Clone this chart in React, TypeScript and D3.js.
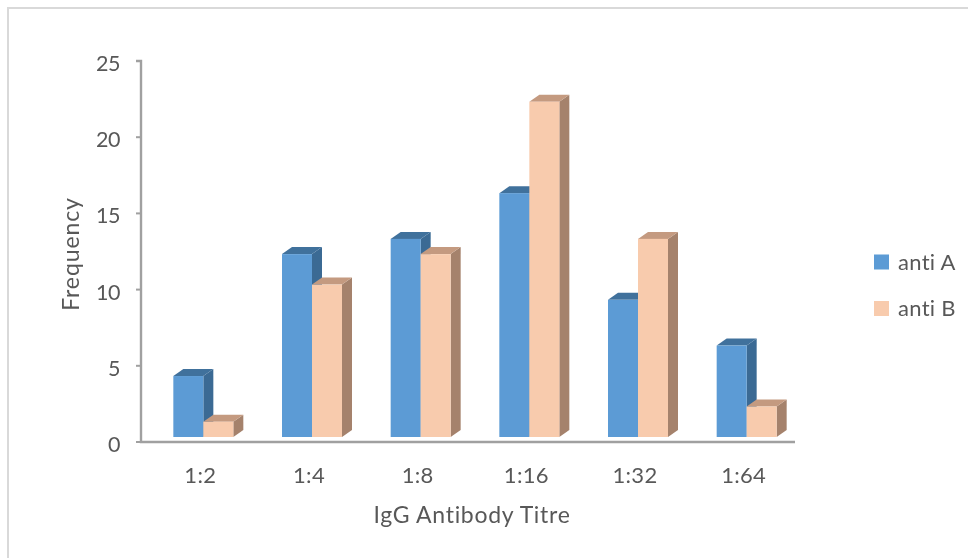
import React from "react";
import * as d3 from "d3";

const categories = ["1:2", "1:4", "1:8", "1:16", "1:32", "1:64"];
const antiA = [4, 12, 13, 16, 9, 6];
const antiB = [1, 10, 12, 22, 13, 2];
const yTicks = [0, 5, 10, 15, 20, 25];
const seriesNames = ["anti A", "anti B"];
const colors = [
  { front: "#5b9bd5", top: "#41719c", side: "#3a6a94" },
  { front: "#f8cbad", top: "#c49a80", side: "#a5826c" },
];

const W = 969;
const H = 558;
const axisX = 141;
const axisY = 442;
const baseY = 437;
const dx = 10;
const dy = 7;
const font = "Lato, Carlito, 'Open Sans', sans-serif";
const textColor = "#595959";

export default function App() {
  const y = d3.scaleLinear().domain([0, 25]).range([axisY, 61]);
  const h = (v: number) => axisY - y(v);
  const band = d3.scaleBand<string>().domain(categories).range([149, 801]);
  const barW = 30;
  const series = [antiA, antiB];

  return (
    <svg
      width={W}
      height={H}
      style={{ position: "absolute", left: 0, top: 0, background: "#fff" }}
      fontFamily={font}
    >
      <defs>
        <filter id="soft" x="-2%" y="-2%" width="104%" height="104%">
          <feGaussianBlur stdDeviation="0.45" />
        </filter>
      </defs>
      <g filter="url(#soft)">
        <path d="M968,8 H8 V558" fill="none" stroke="#d9d9d9" strokeWidth={2} />
        <path
          d={`M136,${y(25)} H${axisX} V${axisY} H795`}
          fill="none"
          stroke="#a0a0a0"
          strokeWidth={2.4}
        />
        {yTicks.map((t) => (
          <g key={t}>
            <line x1={136} x2={axisX} y1={y(t)} y2={y(t)} stroke="#a0a0a0" strokeWidth={2} />
            <text
              x={120}
              y={y(t) + 2.5}
              dy="0.35em"
              textAnchor="end"
              fontSize={21.5}
              letterSpacing={-0.5}
              fill={textColor}
            >
              {t}
            </text>
          </g>
        ))}
        {categories.map((c, i) => {
          const center = band(c)! + band.bandwidth() / 2;
          return (
            <g key={c}>
              {[0, 1].map((s) => {
                const x0 = center - barW + s * barW;
                const x1 = x0 + barW;
                const top = baseY - h(series[s][i]);
                const col = colors[s];
                return (
                  <g key={s}>
                    <path
                      d={`M${x1},${top} L${x1 + dx},${top - dy} V${baseY - dy} L${x1},${baseY} Z`}
                      fill={col.side}
                    />
                    <path
                      d={`M${x0},${top} L${x0 + dx},${top - dy} H${x1 + dx} L${x1},${top} Z`}
                      fill={col.top}
                    />
                    <rect x={x0} y={top} width={barW} height={baseY - top} fill={col.front} />
                  </g>
                );
              })}
              <text
                x={center - 3}
                y={483}
                textAnchor="middle"
                fontSize={22}
                letterSpacing={0.3}
                fill={textColor}
              >
                {c}
              </text>
            </g>
          );
        })}
        <text x={472} y={523} textAnchor="middle" fontSize={23} letterSpacing={0.7} fill={textColor}>
          IgG Antibody Titre
        </text>
        <text
          transform="translate(79,254) rotate(-90)"
          textAnchor="middle"
          fontSize={23}
          letterSpacing={0.9}
          fill={textColor}
        >
          Frequency
        </text>
        {seriesNames.map((n, i) => {
          const ly = 262 + i * 46.5;
          return (
            <g key={n}>
              <rect x={874} y={ly - 7.5} width={15} height={15} fill={colors[i].front} />
              <text x={898} y={ly} dy="0.35em" fontSize={22} letterSpacing={0.3} fill={textColor}>
                {n}
              </text>
            </g>
          );
        })}
      </g>
    </svg>
  );
}
